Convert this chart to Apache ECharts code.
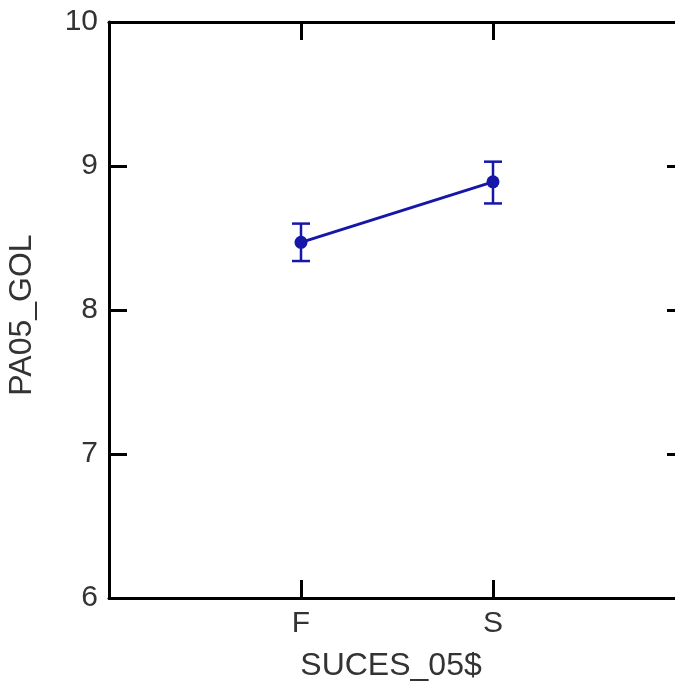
<!DOCTYPE html>
<html>
<head>
<meta charset="utf-8">
<script src="https://cdn.jsdelivr.net/npm/echarts@6/dist/echarts.min.js"></script>
<style>
html,body{margin:0;padding:0;background:#fff;}
#chart{width:675px;height:686px;}
</style>
</head>
<body>
<div id="chart"></div>
<script>
var categories = ['F', 'S'];
var means = [8.47, 8.89];
var upper = [8.60, 9.03];
var lower = [8.34, 8.74];
var yTicks = [6, 7, 8, 9, 10];

var FONT = 'Liberation Sans';
var TXT = '#333';
var BLUE = '#1616a8';
var FS = 30;
var NFS = 32;

var lineData = categories.map(function (c, i) { return [i + 1, means[i]]; });
var errData = categories.map(function (c, i) { return [i + 1, lower[i], upper[i]]; });

var chart = echarts.init(document.getElementById('chart'), null, {renderer: 'canvas'});

var axisLineStyle = {show: true, onZero: false, lineStyle: {color: '#000', width: 3}};
var tickStyle = {show: true, inside: true, length: 18, lineStyle: {color: '#000', width: 3}};

chart.setOption({
  animation: false,
  backgroundColor: '#fff',
  grid: {left: 109, top: 22, width: 576, height: 576, containLabel: false, outerBoundsMode: 'none'},
  xAxis: [{
    type: 'value', min: 0, max: categories.length + 1, interval: 1, position: 'bottom',
    axisLine: axisLineStyle,
    axisTick: tickStyle,
    splitLine: {show: false},
    axisLabel: {
      margin: 11, fontFamily: FONT, fontSize: FS, color: TXT,
      formatter: function (v) { return categories[v - 1] || ''; }
    },
    name: 'SUCES_05$', nameLocation: 'middle', nameGap: 52,
    nameTextStyle: {fontFamily: FONT, fontSize: NFS, color: TXT, padding: [0, 12, 0, 0]}
  }, {
    type: 'value', min: 0, max: categories.length + 1, interval: 1, position: 'top',
    axisLine: axisLineStyle,
    axisTick: tickStyle,
    splitLine: {show: false},
    axisLabel: {show: false}
  }],
  yAxis: [{
    type: 'value', min: yTicks[0], max: yTicks[yTicks.length - 1], interval: 1, position: 'left',
    axisLine: axisLineStyle,
    axisTick: tickStyle,
    splitLine: {show: false},
    axisLabel: {margin: 11, fontFamily: FONT, fontSize: FS, color: TXT},
    name: 'PA05_GOL', nameLocation: 'middle', nameGap: 71, nameRotate: 90,
    nameTextStyle: {fontFamily: FONT, fontSize: NFS, color: TXT, padding: [0, 10, 0, 0]}
  }, {
    type: 'value', min: yTicks[0], max: yTicks[yTicks.length - 1], interval: 1, position: 'right',
    axisLine: axisLineStyle,
    axisTick: tickStyle,
    splitLine: {show: false},
    axisLabel: {show: false}
  }],
  series: [{
    type: 'custom',
    xAxisIndex: 0, yAxisIndex: 0,
    data: errData,
    z: 3,
    renderItem: function (params, api) {
      var x = api.value(0);
      var lo = api.coord([x, api.value(1)]);
      var hi = api.coord([x, api.value(2)]);
      var hw = 9;
      var st = {stroke: BLUE, lineWidth: 2.5};
      return {
        type: 'group',
        children: [
          {type: 'line', shape: {x1: lo[0], y1: lo[1], x2: hi[0], y2: hi[1]}, style: st},
          {type: 'line', shape: {x1: lo[0] - hw, y1: lo[1], x2: lo[0] + hw, y2: lo[1]}, style: st},
          {type: 'line', shape: {x1: hi[0] - hw, y1: hi[1], x2: hi[0] + hw, y2: hi[1]}, style: st}
        ]
      };
    }
  }, {
    type: 'line',
    xAxisIndex: 0, yAxisIndex: 0,
    data: lineData,
    z: 4,
    symbol: 'circle', symbolSize: 13,
    lineStyle: {color: BLUE, width: 3},
    itemStyle: {color: BLUE}
  }]
});
</script>
</body>
</html>
